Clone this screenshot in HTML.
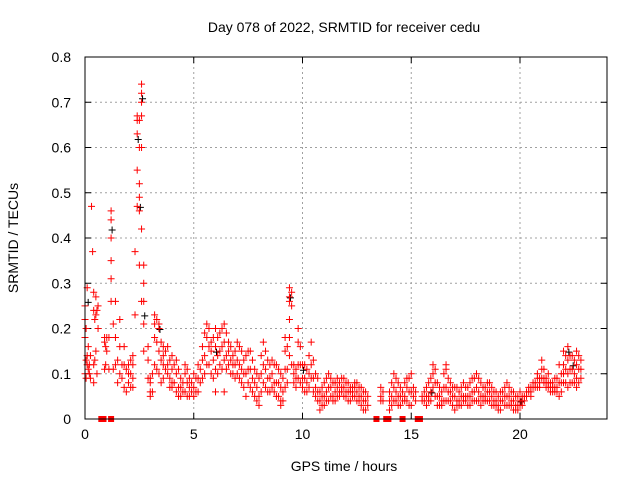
<!DOCTYPE html>
<html><head><meta charset="utf-8"><style>
body{margin:0;background:#fff;}
svg{display:block;font-family:"Liberation Sans",sans-serif;}
</style></head><body>
<svg id="chart" width="640" height="480">
<text x="344" y="32" font-size="14" text-anchor="middle">Day 078 of 2022, SRMTID for receiver cedu</text>
<text x="344" y="471" font-size="14" text-anchor="middle">GPS time / hours</text>
<text transform="translate(18,238) rotate(-90)" font-size="14" text-anchor="middle">SRMTID / TECUs</text>
<g id="grid"></g><g id="ticks"></g><g id="marks"></g>
<rect x="85" y="57" width="522" height="362" fill="none" stroke="#000" stroke-width="1"/>
</svg>
<script>
const times=[0,0.1,0.2,0.3,0.35,0.4,0.5,0.6,0.9,1.0,1.2,1.3,1.4,1.6,1.8,2.0,2.2,2.3,2.4,2.5,2.6,2.7,2.9,3.0,3.2,3.4,3.6,3.8,4.0,4.2,4.4,4.6,4.8,5.0,5.2,5.4,5.6,5.8,6.0,6.2,6.4,6.6,6.8,7.0,7.2,7.4,7.6,7.8,8.0,8.2,8.4,8.6,8.8,9.0,9.2,9.4,9.6,9.8,10.0,10.2,10.4,10.6,10.8,11.0,11.2,11.4,11.6,11.8,12.0,12.2,12.4,12.6,12.8,13.0,13.6,14.0,14.2,14.4,14.6,14.8,15.0,15.2,15.5,15.7,15.9,16.0,16.2,16.4,16.6,16.8,17.0,17.2,17.4,17.6,17.8,18.0,18.2,18.4,18.6,18.8,19.0,19.2,19.4,19.6,19.8,20.0,20.2,20.4,20.6,20.8,21.0,21.2,21.4,21.6,21.8,22.0,22.2,22.4,22.6,22.8];
const values=[[0.25,0.22,0.18,0.1],[0.29,0.14,0.12],[0.12,0.1],[0.47],[0.37],[0.28,0.24,0.12,0.08],[0.23,0.27,0.15],[0.2,0.25],[0.18,0.17,0.11],[0.18,0.15],[0.26,0.31,0.35,0.4,0.44,0.46],[0.21,0.11],[0.26,0.18,0.12],[0.22,0.16,0.1],[0.16,0.12,0.07],[0.12,0.08,0.1],[0.12,0.09,0.07,0.14],[0.23,0.37],[0.47,0.55,0.63,0.67,0.66],[0.66,0.6,0.52,0.49,0.46,0.34],[0.74,0.72,0.7,0.67,0.6,0.42,0.26],[0.34,0.3,0.26,0.21,0.15],[0.13,0.16,0.09],[0.08,0.06,0.05,0.09],[0.23,0.21,0.18,0.12],[0.2,0.21,0.15,0.1],[0.16,0.14,0.12,0.09],[0.16,0.12,0.1],[0.14,0.11,0.08,0.07],[0.13,0.1,0.06],[0.09,0.07,0.05],[0.1,0.12,0.06],[0.09,0.07,0.05],[0.07,0.1,0.05],[0.12,0.09,0.06],[0.16,0.13,0.09],[0.21,0.18,0.12],[0.17,0.15,0.1],[0.2,0.16,0.11,0.06],[0.19,0.15,0.12],[0.21,0.17,0.13,0.06],[0.17,0.15,0.12],[0.14,0.12,0.1],[0.17,0.13,0.1],[0.15,0.11,0.08],[0.14,0.1,0.05],[0.15,0.11,0.07],[0.11,0.08,0.05],[0.09,0.05,0.03],[0.17,0.12,0.08],[0.13,0.09,0.06],[0.13,0.1,0.07],[0.12,0.08,0.05],[0.1,0.07,0.04,0.03],[0.15,0.18,0.11,0.07],[0.29,0.27,0.26,0.22,0.18,0.14],[0.1,0.12,0.08],[0.2,0.17,0.12,0.09],[0.12,0.09,0.07],[0.11,0.08,0.06],[0.17,0.12,0.09],[0.1,0.07,0.05],[0.06,0.04,0.02],[0.08,0.05,0.03],[0.1,0.07,0.04],[0.08,0.05,0.04],[0.09,0.07,0.05],[0.09,0.07,0.06],[0.08,0.06,0.05],[0.07,0.06,0.04],[0.08,0.07,0.05],[0.07,0.05,0.04],[0.06,0.04,0.02],[0.05,0.03],[0.07,0.05,0.04],[0.06,0.04,0.02],[0.1,0.07,0.04],[0.08,0.05,0.03],[0.06,0.04],[0.09,0.07,0.04],[0.1,0.06,0.03],[0.06,0.04],[0.05,0.04],[0.07,0.05,0.03],[0.09,0.06,0.04],[0.12,0.1,0.07],[0.08,0.05,0.03],[0.06,0.04,0.03],[0.12,0.11,0.07,0.04],[0.08,0.06,0.04],[0.07,0.05,0.02],[0.06,0.04,0.03],[0.08,0.05,0.04],[0.07,0.05,0.03],[0.09,0.06,0.04],[0.1,0.07,0.04],[0.08,0.05,0.03],[0.07,0.05,0.04],[0.08,0.06,0.04],[0.06,0.04,0.03],[0.05,0.03,0.02],[0.06,0.04],[0.08,0.05,0.03],[0.06,0.04,0.03],[0.05,0.03,0.02],[0.06,0.04,0.03],[0.05,0.04],[0.07,0.06],[0.08,0.07],[0.1,0.09,0.07],[0.13,0.11,0.09],[0.09,0.08,0.07],[0.08,0.07,0.06],[0.09,0.07,0.06],[0.12,0.08,0.05],[0.15,0.12,0.1,0.08],[0.16,0.13,0.1,0.07],[0.14,0.11,0.08],[0.15,0.12,0.09,0.07],[0.13,0.11,0.09]];
const times2=[0.05,0.15,0.25,0.45,0.55,0.95,1.1,1.5,1.7,1.9,2.1,3.1,3.3,3.5,3.7,3.9,4.1,4.3,4.5,4.7,4.9,5.1,5.3,5.5,5.7,5.9,6.1,6.3,6.5,6.7,6.9,7.1,7.3,7.5,7.7,7.9,8.1,8.3,8.5,8.7,8.9,9.1,9.3,9.5,9.7,9.9,10.1,10.3,10.5,10.7,10.9,11.1,11.3,11.5,11.7,11.9,12.1,12.3,12.5,12.7,12.9,13.7,14.1,14.3,14.5,14.7,14.9,15.1,15.6,15.8,16.1,16.3,16.5,16.7,16.9,17.1,17.3,17.5,17.7,17.9,18.1,18.3,18.5,18.7,18.9,19.1,19.3,19.5,19.7,19.9,20.1,20.3,20.5,20.7,20.9,21.1,21.3,21.5,21.7,21.9,22.1,22.3,22.5,22.7];
const values2=[[0.2,0.13,0.09],[0.16,0.11],[0.14,0.09],[0.22,0.13],[0.24,0.1],[0.12,0.16],[0.18,0.11],[0.13,0.08],[0.12,0.09],[0.11,0.06],[0.13,0.1,0.07],[0.1,0.06],[0.22,0.17,0.11],[0.17,0.13,0.08],[0.15,0.11],[0.13,0.09,0.07],[0.12,0.08],[0.11,0.07,0.05],[0.08,0.06],[0.11,0.08,0.05],[0.08,0.06],[0.09,0.06],[0.11,0.08],[0.19,0.14,0.1],[0.2,0.16,0.12],[0.18,0.13,0.09],[0.18,0.14,0.1],[0.2,0.16,0.11],[0.19,0.14,0.11],[0.16,0.13,0.1],[0.15,0.12,0.09],[0.16,0.12,0.09],[0.13,0.1,0.07],[0.15,0.11,0.08],[0.13,0.09,0.06],[0.1,0.07,0.04],[0.14,0.1,0.06],[0.15,0.11,0.07],[0.12,0.09,0.06],[0.12,0.08,0.06],[0.11,0.08,0.05],[0.09,0.06,0.04],[0.16,0.11,0.08],[0.28,0.25,0.12],[0.11,0.09,0.07],[0.16,0.12,0.08],[0.12,0.09,0.06],[0.14,0.1,0.07],[0.13,0.09,0.06],[0.09,0.06,0.04],[0.07,0.05,0.03],[0.09,0.06,0.04],[0.09,0.07,0.05],[0.08,0.06,0.04],[0.08,0.06,0.05],[0.09,0.07,0.05],[0.08,0.06,0.04],[0.07,0.06,0.05],[0.08,0.06,0.04],[0.07,0.05,0.03],[0.06,0.04,0.02],[0.06,0.04],[0.08,0.05,0.03],[0.09,0.06,0.04],[0.07,0.05,0.03],[0.08,0.05,0.04],[0.09,0.06,0.03],[0.07,0.05],[0.06,0.04],[0.08,0.05,0.04],[0.11,0.08,0.05],[0.07,0.05,0.03],[0.1,0.07,0.04],[0.09,0.06,0.04],[0.07,0.05,0.03],[0.07,0.04,0.03],[0.07,0.05,0.03],[0.07,0.05,0.04],[0.08,0.05,0.03],[0.09,0.06,0.04],[0.09,0.06,0.04],[0.07,0.05,0.04],[0.08,0.06,0.04],[0.07,0.05,0.03],[0.06,0.04,0.03],[0.06,0.04,0.02],[0.07,0.05,0.03],[0.07,0.05,0.03],[0.06,0.04,0.02],[0.05,0.03,0.02],[0.05,0.04,0.03],[0.06,0.05],[0.07,0.06,0.05],[0.08,0.07],[0.09,0.08,0.07],[0.11,0.09,0.08],[0.1,0.08,0.07],[0.08,0.07,0.06],[0.09,0.07,0.06],[0.1,0.08,0.06],[0.14,0.11,0.08],[0.14,0.11,0.08],[0.13,0.1,0.08],[0.14,0.11,0.08]];
const blackTimes=[0.1,1.2,2.4,2.5,2.6,2.7,3.4,6.0,9.4,10.0,15.9,20.0,22.2,22.4];
const blackValues=[0.26,0.42,0.62,0.47,0.71,0.23,0.2,0.15,0.27,0.11,0.06,0.04,0.15,0.12];
const zeroTimes=[0.75,0.85,1.2,13.4,13.85,13.95,14.6,15.3,15.4];
const xTicks=[0,5,10,15,20];
const yTicks=[0,0.1,0.2,0.3,0.4,0.5,0.6,0.7,0.8];
const X0=85,X1=607,Y0=419,Y1=57,XMAX=24,YMAX=0.8;
const sx=t=>X0+(X1-X0)*t/XMAX, sy=v=>Y0-(Y0-Y1)*v/YMAX;
const NS="http://www.w3.org/2000/svg";
function mk(tag,attrs,parent){const e=document.createElementNS(NS,tag);for(const k in attrs)e.setAttribute(k,attrs[k]);parent.appendChild(e);return e;}
const grid=document.getElementById('grid'),ticks=document.getElementById('ticks'),marks=document.getElementById('marks');
xTicks.forEach(t=>{const x=sx(t);
 if(t>0){const g=mk('line',{x1:x,x2:x,y1:Y1,y2:Y0,stroke:'#a0a0a0','stroke-dasharray':'2,3'},grid);
 
 }
 const l=mk('text',{x:x,y:Y0+20,'font-size':14,'text-anchor':'middle'},ticks);l.textContent=t;
 
 
 mk('line',{x1:x,x2:x,y1:Y0,y2:Y0-6,stroke:'#000'},ticks);mk('line',{x1:x,x2:x,y1:Y1,y2:Y1+6,stroke:'#000'},ticks);});
yTicks.forEach(v=>{const y=sy(v);
 if(v>0&&v<YMAX){const g=mk('line',{x1:X0,x2:X1,y1:y,y2:y,stroke:'#a0a0a0','stroke-dasharray':'2,3'},grid);
 
 }
 const l=mk('text',{x:X0-14,y:y+5,'font-size':14,'text-anchor':'end'},ticks);l.textContent=v===0?'0':v.toFixed(1);
 
 
 mk('line',{x1:X0,x2:X0+6,y1:y,y2:y,stroke:'#000'},ticks);mk('line',{x1:X1,x2:X1-6,y1:y,y2:y,stroke:'#000'},ticks);});
function plus(x,y,c,name){const p=mk('path',{d:`M${x-3.5},${y}h7M${x},${y-3.5}v7`,stroke:c,'stroke-width':1,fill:'none'},marks);
 
 }
blackTimes.forEach((t,i)=>plus(sx(t)+1,sy(blackValues[i])+1,'#000','black-point'));
times.forEach((t,i)=>values[i].forEach(v=>plus(sx(t),sy(v),'#ff0000','red-point')));
times2.forEach((t,i)=>values2[i].forEach(v=>plus(sx(t),sy(v),'#ff0000','red-point')));
zeroTimes.forEach(t=>{const r=mk('rect',{x:sx(t)-3,y:Y0-3,width:6,height:6,fill:'#ff0000'},marks);
 
 });
</script>
</body></html>
